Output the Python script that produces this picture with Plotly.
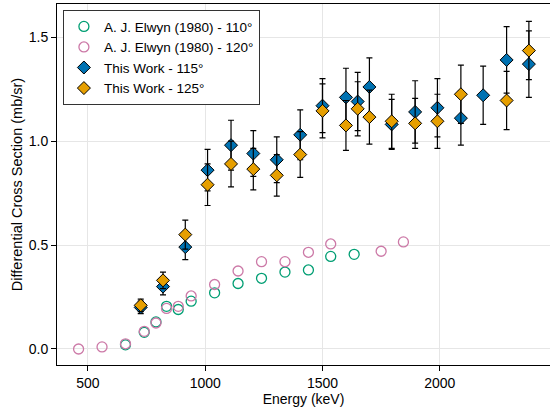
import plotly.graph_objects as go

# Elwyn et al. (1980) reference data
elwyn_110_energy = [660, 740, 790, 835, 885, 940, 1040, 1140, 1240, 1340, 1440, 1535, 1635]
elwyn_110_xs = [0.02, 0.08, 0.13, 0.205, 0.19, 0.23, 0.27, 0.315, 0.34, 0.37, 0.38, 0.445, 0.455]

elwyn_120_energy = [460, 560, 660, 740, 790, 835, 885, 940, 1040, 1140, 1240, 1340, 1440, 1535, 1750, 1845]
elwyn_120_xs = [0.00, 0.01, 0.025, 0.085, 0.125, 0.195, 0.205, 0.255, 0.31, 0.375, 0.42, 0.42,
                0.465, 0.505, 0.47, 0.515]

# Present measurements
work_115_energy = [725, 820, 915, 1010, 1110, 1205, 1305, 1405, 1500, 1600, 1650, 1700,
                   1795, 1895, 1990, 2090, 2185, 2285, 2380]
work_115_xs = [0.20, 0.30, 0.49, 0.86, 0.98, 0.94, 0.91, 1.03, 1.17, 1.21, 1.19, 1.26,
               1.08, 1.14, 1.16, 1.11, 1.22, 1.39, 1.37]
work_115_err = [0.03, 0.04, 0.06, 0.10, 0.12, 0.11, 0.11, 0.12, 0.13, 0.14, 0.14, 0.14,
                0.12, 0.15, 0.14, 0.13, 0.14, 0.16, 0.16]

work_125_energy = [725, 820, 915, 1010, 1110, 1205, 1305, 1405, 1500, 1600, 1650, 1700,
                   1795, 1895, 1990, 2090, 2285, 2380]
work_125_xs = [0.21, 0.33, 0.55, 0.79, 0.89, 0.865, 0.835, 0.935, 1.145, 1.075, 1.155, 1.115,
               1.095, 1.085, 1.095, 1.225, 1.195, 1.435]
work_125_err = [0.03, 0.04, 0.07, 0.10, 0.11, 0.10, 0.10, 0.11, 0.13, 0.12, 0.13, 0.13,
                0.13, 0.12, 0.13, 0.14, 0.14, 0.14]

x_ticks = [500, 1000, 1500, 2000]
y_ticks = [0.0, 0.5, 1.0, 1.5]
y_tick_text = ["0.0", "0.5", "1.0", "1.5"]

GREEN = "#009E73"
PINK = "#CC79A7"
BLUE = "#0072B2"
ORANGE = "#E69F00"
FONT = "Liberation Sans"

fig = go.Figure()

fig.add_trace(go.Scatter(
    x=elwyn_110_energy, y=elwyn_110_xs, mode="markers",
    name="A. J. Elwyn (1980) - 110°",
    marker=dict(symbol="circle-open", size=10, color=GREEN, line=dict(width=1.3, color=GREEN)),
))
fig.add_trace(go.Scatter(
    x=elwyn_120_energy, y=elwyn_120_xs, mode="markers",
    name="A. J. Elwyn (1980) - 120°",
    marker=dict(symbol="circle-open", size=10, color=PINK, line=dict(width=1.3, color=PINK)),
))
fig.add_trace(go.Scatter(
    x=work_115_energy, y=work_115_xs, mode="markers",
    name="This Work - 115°",
    marker=dict(symbol="diamond", size=10, color=BLUE, line=dict(width=1, color="black")),
    error_y=dict(type="data", array=work_115_err, visible=True, color="black",
                 thickness=1.2, width=3),
))
fig.add_trace(go.Scatter(
    x=work_125_energy, y=work_125_xs, mode="markers",
    name="This Work - 125°",
    marker=dict(symbol="diamond", size=10, color=ORANGE, line=dict(width=1, color="black")),
    error_y=dict(type="data", array=work_125_err, visible=True, color="black",
                 thickness=1.2, width=3),
))

fig.update_layout(
    width=550, height=414,
    margin=dict(l=57, r=0, t=4, b=49),
    paper_bgcolor="white", plot_bgcolor="white",
    font=dict(family=FONT, size=14, color="black"),
    showlegend=True,
    legend=dict(
        x=0.012, y=0.983, xanchor="left", yanchor="top",
        bgcolor="white", bordercolor="#333333", borderwidth=1,
        font=dict(family=FONT, size=13.5, color="black"),
        itemwidth=30, tracegroupgap=0,
    ),
    xaxis=dict(
        range=[368, 2470], tickvals=x_ticks,
        showgrid=True, gridcolor="#e6e6e6", gridwidth=1,
        showline=True, linecolor="black", linewidth=1, mirror=True,
        ticks="outside", ticklen=5, tickcolor="black", tickwidth=1,
        zeroline=False,
        title=dict(text="Energy (keV)", standoff=2, font=dict(size=14)),
        tickfont=dict(size=14),
    ),
    yaxis=dict(
        range=[-0.077, 1.659], tickvals=y_ticks, ticktext=y_tick_text,
        showgrid=True, gridcolor="#e6e6e6", gridwidth=1,
        showline=True, linecolor="black", linewidth=1, mirror=False,
        ticks="outside", ticklen=5, tickcolor="black", tickwidth=1,
        zeroline=False,
        title=dict(text="Differential Cross Section (mb/sr)", standoff=2, font=dict(size=14.5)),
        tickfont=dict(size=14),
    ),
)

fig.write_html("out.html")
